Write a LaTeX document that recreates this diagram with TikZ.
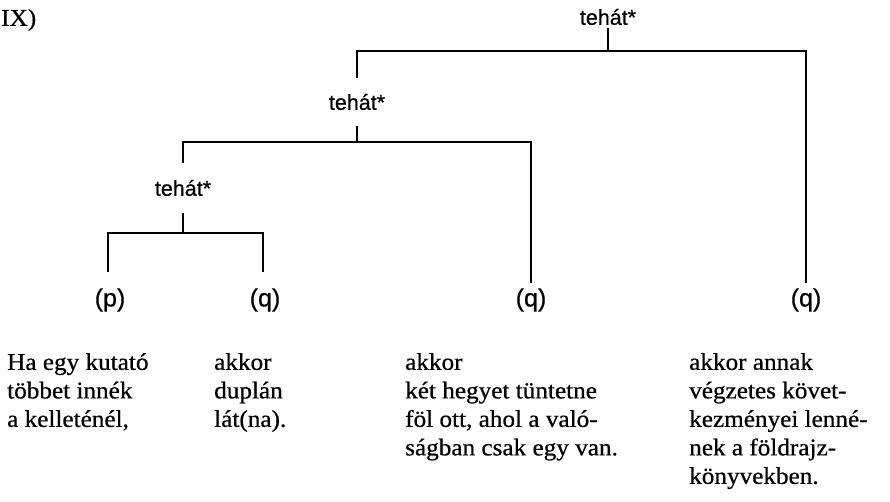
\documentclass[tikz,border=0pt]{standalone}
\usepackage{fontspec}
\setmainfont{Liberation Serif}[FakeStretch=1.05,FakeBold=0.6]
\newfontfamily\labfont{Liberation Sans}[FakeBold=0.6]
\begin{document}
\begin{tikzpicture}[x=1pt,y=-1pt,
  tree/.style={line width=2.8pt, line join=miter},
  lab/.style={font=\labfont\fontsize{21.5}{24}\selectfont, inner sep=0pt},
  leaf/.style={font=\labfont\fontsize{25}{28}\selectfont, inner sep=0pt},
  body/.style={font=\fontsize{24}{28.5}\selectfont, align=left, inner sep=0pt, anchor=north west}]
\useasboundingbox (0,0) rectangle (890,502);
\node[body, anchor=west] (title) at (1,20) {IX)};
% labels of the tree
\node[lab, minimum height=22pt] (t1) at (608,17) {tehát*};
\node[lab, minimum height=48pt] (t2) at (357,102) {tehát*};
\node[lab, minimum height=50pt] (t3) at (183,188) {tehát*};
% leaves
\node[leaf, minimum height=56pt] (p1) at (110,300) {(p)};
\node[leaf, minimum height=56pt] (q1) at (265,300) {(q)};
\node[leaf, minimum height=34pt] (q2) at (531,300) {(q)};
\node[leaf, minimum height=34pt] (q3) at (806,300) {(q)};
% junctions
\coordinate (j1) at (608,51);
\coordinate (j2) at (357,142);
\coordinate (j3) at (183,233);
% connectors
\draw[tree] (t1.south) -- (j1);
\draw[tree] (t2.north) |- (j1) -| (q3.north);
\draw[tree] (t2.south) -- (j2);
\draw[tree] (t3.north) |- (j2) -| (q2.north);
\draw[tree] (t3.south) -- (j3);
\draw[tree] ([xshift=-2pt]p1.north) |- (j3) -| ([xshift=-2pt]q1.north);
% texts
\node[body] (b1) at (7,353) {Ha egy kutató\\többet innék\\a kelleténél,};
\node[body] (b2) at (214,353) {akkor\\duplán\\lát(na).};
\node[body] (b3) at (405,353) {akkor\\két hegyet tüntetne\\föl ott, ahol a való-\\ságban csak egy van.};
\node[body] (b4) at (689,353) {akkor annak\\végzetes követ-\\kezményei lenné-\\nek a földrajz-\\könyvekben.};
\end{tikzpicture}
\end{document}
